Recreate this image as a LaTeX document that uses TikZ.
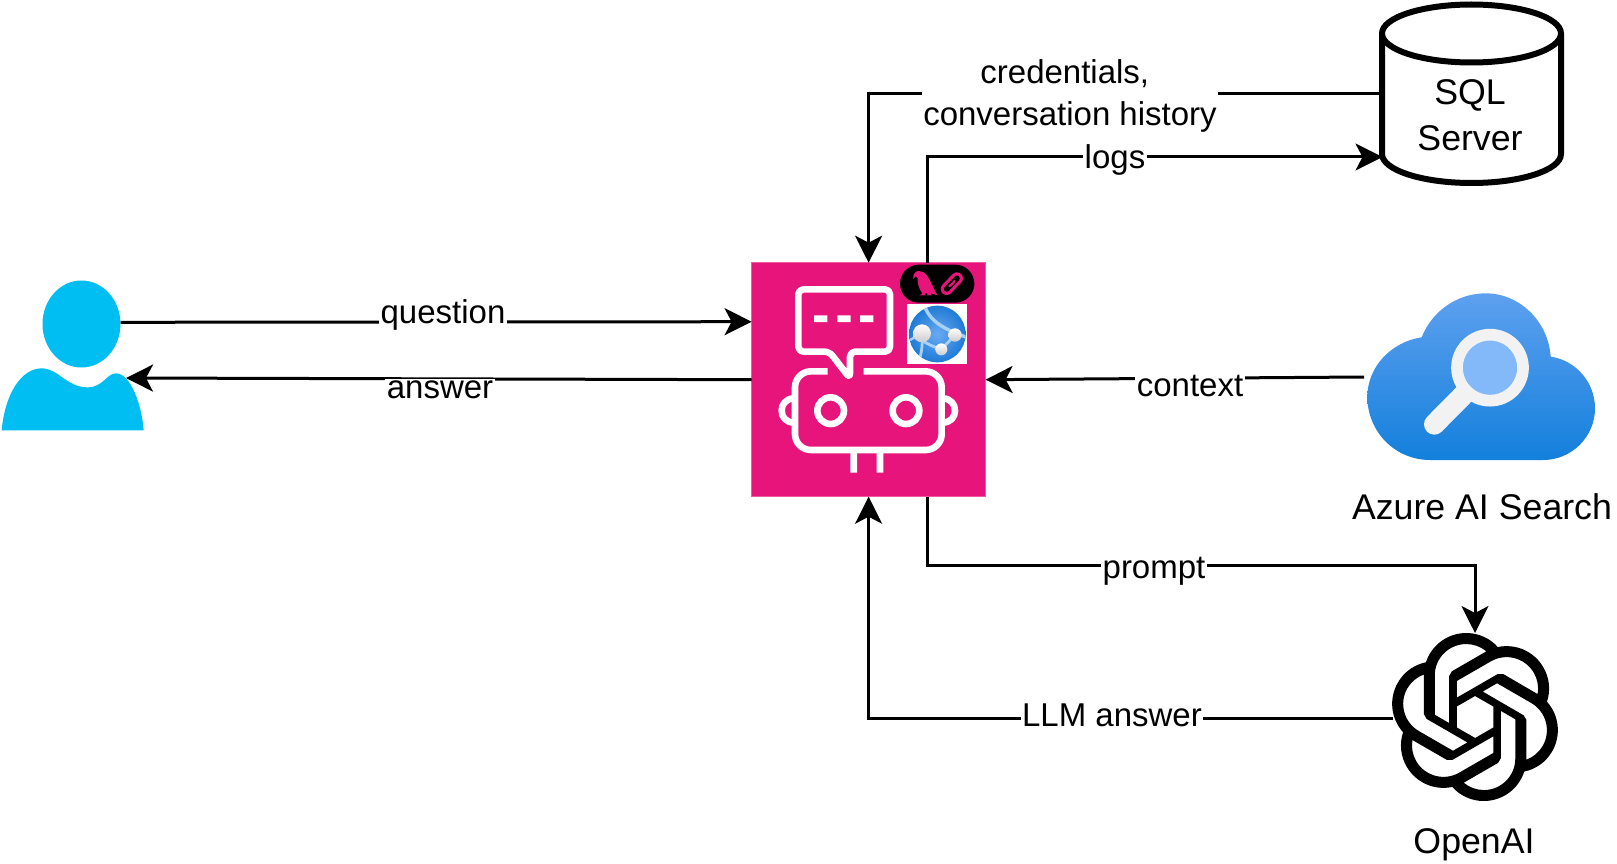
\documentclass[tikz,border=0pt]{standalone}
\usepackage{fontspec}
\setmainfont{Liberation Sans}
\usetikzlibrary{arrows.meta,shapes.geometric,svg.path,calc}
\definecolor{botpink}{HTML}{E7157B}
\definecolor{userblue}{HTML}{00BEF2}
\definecolor{cloudtop}{HTML}{5EA0EF}
\definecolor{cloudbot}{HTML}{1380DC}
\definecolor{lensrim}{HTML}{F2F2F2}
\definecolor{lensin}{HTML}{83B9F9}
\definecolor{globein}{HTML}{6AAAF2}
\definecolor{globeout}{HTML}{1F7BD6}
\definecolor{globeline}{HTML}{A9D1F7}
\tikzset{
  conn/.style={line width=3pt,draw=black,-{Stealth[length=27pt,width=27pt,inset=7pt]}},
  lbl/.style={fill=white,inner sep=1.5pt,font=\fontsize{33}{42}\selectfont,align=center,text=black},
  captiontext/.style={inner sep=0pt,font=\fontsize{35.7}{45.5}\selectfont,align=center,text=black},
  anchorbox/.style={inner sep=0pt,outer sep=0pt,draw=none},
  botbox/.style={rectangle,fill=botpink,draw=botpink!70!white,line width=.6pt,minimum width=234pt,minimum height=234pt,inner sep=0pt,outer sep=0pt},
  roboline/.style={draw=white,line width=6.6pt,line join=round},
  zoomed/.style={x=.33333pt,y=-.33333pt},
}
\begin{document}
\begin{tikzpicture}[x=1pt,y=-1pt]
\useasboundingbox (0,0) rectangle (1617,864);
\fill[white] (0,0) rectangle (1617,864);

% ---------- bot ----------
\node[botbox] (bot) at (868.6,379.7) {};
\begin{scope}[shift={(740,250)},zoomed]
  % speech bubble
  \draw[roboline,rounded corners=5pt] (330,385) -- (330,305) -- (450,305) -- (450,118) -- (175,118) -- (175,305) -- (268,305) -- cycle;
  \fill[white] (222,196) rectangle (262,216) (292,196) rectangle (332,216) (360,196) rectangle (400,216);
  % head
  \draw[roboline,rounded corners=16pt] (263,364) -- (165,364) -- (165,600) -- (605,600) -- (605,364) -- (371,364);
  \draw[roboline] (272,482) circle[radius=40] (498,482) circle[radius=40];
  \draw[roboline] (160,445) .. controls (138,447) and (125,462) .. (125,482) .. controls (125,502) and (138,516) .. (160,518);
  \draw[roboline] (610,445) .. controls (632,447) and (645,462) .. (645,482) .. controls (645,502) and (632,516) .. (610,518);
  \fill[white] (331,608) rectangle (351,668) (410,608) rectangle (430,668);
  % parrot + link badge
  \fill[black,rounded corners=19pt] (480,44) rectangle (703,158);
  \fill[botpink] (520,88) .. controls (518,72) and (526,63) .. (537,63) .. controls (558,63) and (566,84) .. (574,100) .. controls (580,112) and (586,126) .. (593,136) -- (572,130) -- (575,136) -- (562,136) -- (562,130) -- (556,130) -- (556,136) -- (540,136) -- (547,130) .. controls (536,116) and (532,98) .. (533,84) -- (526,79) -- cycle;
  \draw[botpink,line width=12pt,line cap=round] (620,117) -- (651,85);
  \draw[black,line width=5.6pt,line cap=round] (620,117) -- (651,85);
  \draw[botpink,line width=2.2pt,line cap=round] (628,109) .. controls (632,100) and (638,106) .. (643,93);
  % web-app globe
  \fill[white] (501,162) rectangle (682,342);
  \begin{scope}
    \clip (592,252) circle[radius=85];
    \shade[inner color=globein,outer color=globeout] (507,167) rectangle (677,337);
    \draw[globeline,line width=3.4pt] (555,172) .. controls (575,220) and (620,240) .. (680,262);
    \draw[globeline,line width=2.8pt] (540,265) .. controls (555,280) and (580,290) .. (604,298);
    \draw[globeline,line width=2.8pt] (604,298) -- (645,255);
    \draw[globeline,line width=2.8pt] (538,330) .. controls (545,305) and (548,285) .. (546,262);
    \draw[globeline,line width=2.4pt] (510,270) -- (546,250);
  \end{scope}
  \shade[top color=white,bottom color=black!20] (546,250) circle[radius=27];
  \shade[top color=white,bottom color=black!20] (645,255) circle[radius=20];
  \shade[top color=white,bottom color=black!20] (604,298) circle[radius=18];
\end{scope}

% ---------- user ----------
\node[ellipse,fill=userblue,minimum width=78pt,minimum height=87pt,inner sep=0pt,outer sep=0pt] (userhead) at (81.5,324) {};
\begin{scope}[shift={(0,270)},zoomed]
  \fill[userblue] (5,481) .. controls (15,370) and (65,295) .. (125,295) .. controls (175,295) and (200,352) .. (262,352) .. controls (310,352) and (320,310) .. (348,310) .. controls (390,310) and (425,400) .. (431,481) -- cycle;
\end{scope}
\coordinate (userneck) at (126,378);

% ---------- SQL Server ----------
\node[anchorbox,minimum width=179pt,minimum height=179pt] (sqlbox) at (1472,94) {};
\draw[line width=6pt,line join=round] (1382,33.5) -- (1382,154) arc[start angle=180,end angle=0,x radius=89.5,y radius=29] -- (1561,33.5) arc[start angle=0,end angle=360,x radius=89.5,y radius=29];
\node[captiontext] (sqltext) at (1470,115) {SQL\\Server};

% ---------- Azure AI Search ----------
\node[anchorbox,minimum width=231pt,minimum height=168pt] (azure) at (1479.5,377) {};
\begin{scope}[shift={(1340,280)},zoomed]
  \shade[top color=cloudtop,bottom color=cloudbot] (270,540) -- (610,540) .. controls (695,540) and (765,470) .. (765,385) .. controls (765,305) and (705,240) .. (632,230) .. controls (625,125) and (540,40) .. (437,40) .. controls (350,40) and (275,95) .. (245,172) .. controls (155,185) and (82,260) .. (82,350) .. controls (82,455) and (165,540) .. (270,540) -- cycle;
  \draw[lensrim,line width=20.7pt,line cap=round] (370,345) -- (283,433);
  \fill[lensin] (450,263) circle[radius=90];
  \draw[lensrim,line width=11.7pt] (450,263) circle[radius=99];
\end{scope}
\node[captiontext] (azuretext) at (1482,507) {Azure AI Search};

% ---------- OpenAI ----------
\node[anchorbox,minimum width=164pt,minimum height=170pt] (openai) at (1475,718) {};
\begin{scope}[shift={(1391,633)},xscale=7,yscale=-7]
\fill[black,even odd rule] svg {M 22.2819 9.8211 a 5.9847 5.9847 0 0 0 -.5157 -4.9108 a 6.0462 6.0462 0 0 0 -6.5098 -2.9 A 6.0651 6.0651 0 0 0 4.9807 4.1818 a 5.9847 5.9847 0 0 0 -3.9977 2.9 a 6.0462 6.0462 0 0 0 .7427 7.0966 a 5.98 5.98 0 0 0 .511 4.9107 a 6.051 6.051 0 0 0 6.5146 2.9001 A 5.9847 5.9847 0 0 0 13.2599 24 a 6.0557 6.0557 0 0 0 5.7718 -4.2058 a 5.9894 5.9894 0 0 0 3.9977 -2.9001 a 6.0557 6.0557 0 0 0 -.7475 -7.0729 z
M 13.2599 22.4292 a 4.4755 4.4755 0 0 1 -2.8764 -1.0408 l .1419 -.0804 l 4.7783 -2.7582 l .3927 -.6813 v -6.7369 l 2.02 1.1686 l .038 .052 v 5.5826 a 4.504 4.504 0 0 1 -4.4945 4.4944 z
M 3.5992 18.3038 a 4.4708 4.4708 0 0 1 -.5346 -3.0137 l .142 .0852 l 4.783 2.7582 l .7806 0 l 5.8428 -3.3685 v 2.3324 l -.0332 .0615 L 9.74 19.9502 a 4.4992 4.4992 0 0 1 -6.1408 -1.6464 z
M 2.3408 7.8956 a 4.485 4.485 0 0 1 2.3655 -1.9728 V 11.6 l .3879 .6765 l 5.8144 3.3543 l -2.0201 1.1685 l -.071 0 l -4.8303 -2.7865 A 4.504 4.504 0 0 1 2.3408 7.872 z
M 18.9371 11.7514 L 13.1038 8.364 L 15.1192 7.2 l .071 0 l 4.8303 2.7913 a 4.4944 4.4944 0 0 1 -.6765 8.1042 v -5.6772 l -.407 -.667 z
M 20.9478 8.7283 l -.142 -.0852 l -4.7735 -2.7818 l -.7854 0 L 9.409 9.2297 V 6.8974 l .0284 -.0615 l 4.8303 -2.7866 a 4.4992 4.4992 0 0 1 6.6802 4.66 z
M 8.3065 12.863 l -2.02 -1.1638 l -.038 -.0567 V 6.0742 a 4.4992 4.4992 0 0 1 7.3757 -3.4537 l -.142 .0805 L 8.704 5.459 l -.3927 .6813 z
M 9.4041 10.4976 l 2.602 -1.4998 l 2.6069 1.4998 v 2.9994 l -2.5974 1.4997 l -2.6067 -1.4997 z};
\end{scope}
\node[captiontext] (openaitext) at (1474,845) {OpenAI};

% ---------- connectors ----------
\draw[conn] ([yshift=1.7pt]userhead.east) -- ([yshift=58pt]bot.west);
\draw[conn] (bot.west) -- (userneck);
\draw[conn] (sqlbox.west) -| (bot.north);
\draw[conn] ([xshift=58.4pt]bot.north) |- ([yshift=-63pt]sqlbox.west);
\draw[conn] (azure.west) -- (bot.east);
\draw[conn] ([xshift=58.4pt]bot.south) -- ++(0,68.5) -| (openai.north);
\draw[conn] (openai.west) -| (bot.south);

% ---------- labels ----------
\node[lbl] (lquestion) at (443,315) {question};
\node[lbl] (lanswer) at (440,390) {answer};
\node[lbl] (lcred) at (1070,96) {credentials,\hspace*{10.4pt}\\conversation history};
\node[lbl] (llogs) at (1115,160) {logs};
\node[lbl] (lcontext) at (1190,386) {context};
\node[lbl] (lprompt) at (1154,571) {prompt};
\node[lbl] (lllm) at (1112,715) {LLM answer};
\end{tikzpicture}
\end{document}
